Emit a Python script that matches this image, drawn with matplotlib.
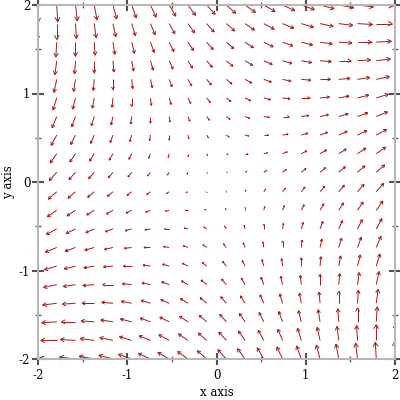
import math
import matplotlib
matplotlib.use("Agg")
import matplotlib.pyplot as plt
from matplotlib.collections import LineCollection
from matplotlib.ticker import MultipleLocator

plt.rcParams["axes.unicode_minus"] = False

# sample positions of the vector field (20 per axis)
X_SAMPLES = [-2.00, -1.79, -1.58, -1.37, -1.16, -0.95, -0.74, -0.53, -0.32, -0.11,
             0.11, 0.32, 0.53, 0.74, 0.95, 1.16, 1.37, 1.58, 1.79, 2.00]
Y_SAMPLES = [-2.00, -1.79, -1.58, -1.37, -1.16, -0.95, -0.74, -0.53, -0.32, -0.11,
             0.11, 0.32, 0.53, 0.74, 0.95, 1.16, 1.37, 1.58, 1.79, 2.00]

# x component, one row per y sample (bottom row first)
U = [
    [-4.00, -3.79, -3.58, -3.37, -3.16, -2.95, -2.74, -2.53, -2.32, -2.11, -1.89, -1.68, -1.47, -1.26, -1.05, -0.84, -0.63, -0.42, -0.21, 0.00],
    [-3.79, -3.58, -3.37, -3.16, -2.95, -2.74, -2.53, -2.32, -2.11, -1.89, -1.68, -1.47, -1.26, -1.05, -0.84, -0.63, -0.42, -0.21, 0.00, 0.21],
    [-3.58, -3.37, -3.16, -2.95, -2.74, -2.53, -2.32, -2.11, -1.89, -1.68, -1.47, -1.26, -1.05, -0.84, -0.63, -0.42, -0.21, 0.00, 0.21, 0.42],
    [-3.37, -3.16, -2.95, -2.74, -2.53, -2.32, -2.11, -1.89, -1.68, -1.47, -1.26, -1.05, -0.84, -0.63, -0.42, -0.21, 0.00, 0.21, 0.42, 0.63],
    [-3.16, -2.95, -2.74, -2.53, -2.32, -2.11, -1.89, -1.68, -1.47, -1.26, -1.05, -0.84, -0.63, -0.42, -0.21, 0.00, 0.21, 0.42, 0.63, 0.84],
    [-2.95, -2.74, -2.53, -2.32, -2.11, -1.89, -1.68, -1.47, -1.26, -1.05, -0.84, -0.63, -0.42, -0.21, 0.00, 0.21, 0.42, 0.63, 0.84, 1.05],
    [-2.74, -2.53, -2.32, -2.11, -1.89, -1.68, -1.47, -1.26, -1.05, -0.84, -0.63, -0.42, -0.21, 0.00, 0.21, 0.42, 0.63, 0.84, 1.05, 1.26],
    [-2.53, -2.32, -2.11, -1.89, -1.68, -1.47, -1.26, -1.05, -0.84, -0.63, -0.42, -0.21, 0.00, 0.21, 0.42, 0.63, 0.84, 1.05, 1.26, 1.47],
    [-2.32, -2.11, -1.89, -1.68, -1.47, -1.26, -1.05, -0.84, -0.63, -0.42, -0.21, 0.00, 0.21, 0.42, 0.63, 0.84, 1.05, 1.26, 1.47, 1.68],
    [-2.11, -1.89, -1.68, -1.47, -1.26, -1.05, -0.84, -0.63, -0.42, -0.21, 0.00, 0.21, 0.42, 0.63, 0.84, 1.05, 1.26, 1.47, 1.68, 1.89],
    [-1.89, -1.68, -1.47, -1.26, -1.05, -0.84, -0.63, -0.42, -0.21, 0.00, 0.21, 0.42, 0.63, 0.84, 1.05, 1.26, 1.47, 1.68, 1.89, 2.11],
    [-1.68, -1.47, -1.26, -1.05, -0.84, -0.63, -0.42, -0.21, 0.00, 0.21, 0.42, 0.63, 0.84, 1.05, 1.26, 1.47, 1.68, 1.89, 2.11, 2.32],
    [-1.47, -1.26, -1.05, -0.84, -0.63, -0.42, -0.21, 0.00, 0.21, 0.42, 0.63, 0.84, 1.05, 1.26, 1.47, 1.68, 1.89, 2.11, 2.32, 2.53],
    [-1.26, -1.05, -0.84, -0.63, -0.42, -0.21, 0.00, 0.21, 0.42, 0.63, 0.84, 1.05, 1.26, 1.47, 1.68, 1.89, 2.11, 2.32, 2.53, 2.74],
    [-1.05, -0.84, -0.63, -0.42, -0.21, 0.00, 0.21, 0.42, 0.63, 0.84, 1.05, 1.26, 1.47, 1.68, 1.89, 2.11, 2.32, 2.53, 2.74, 2.95],
    [-0.84, -0.63, -0.42, -0.21, 0.00, 0.21, 0.42, 0.63, 0.84, 1.05, 1.26, 1.47, 1.68, 1.89, 2.11, 2.32, 2.53, 2.74, 2.95, 3.16],
    [-0.63, -0.42, -0.21, 0.00, 0.21, 0.42, 0.63, 0.84, 1.05, 1.26, 1.47, 1.68, 1.89, 2.11, 2.32, 2.53, 2.74, 2.95, 3.16, 3.37],
    [-0.42, -0.21, 0.00, 0.21, 0.42, 0.63, 0.84, 1.05, 1.26, 1.47, 1.68, 1.89, 2.11, 2.32, 2.53, 2.74, 2.95, 3.16, 3.37, 3.58],
    [-0.21, 0.00, 0.21, 0.42, 0.63, 0.84, 1.05, 1.26, 1.47, 1.68, 1.89, 2.11, 2.32, 2.53, 2.74, 2.95, 3.16, 3.37, 3.58, 3.79],
    [0.00, 0.21, 0.42, 0.63, 0.84, 1.05, 1.26, 1.47, 1.68, 1.89, 2.11, 2.32, 2.53, 2.74, 2.95, 3.16, 3.37, 3.58, 3.79, 4.00],
]

# y component, same layout
V = [
    [0.00, 0.21, 0.42, 0.63, 0.84, 1.05, 1.26, 1.47, 1.68, 1.89, 2.11, 2.32, 2.53, 2.74, 2.95, 3.16, 3.37, 3.58, 3.79, 4.00],
    [-0.21, 0.00, 0.21, 0.42, 0.63, 0.84, 1.05, 1.26, 1.47, 1.68, 1.89, 2.11, 2.32, 2.53, 2.74, 2.95, 3.16, 3.37, 3.58, 3.79],
    [-0.42, -0.21, 0.00, 0.21, 0.42, 0.63, 0.84, 1.05, 1.26, 1.47, 1.68, 1.89, 2.11, 2.32, 2.53, 2.74, 2.95, 3.16, 3.37, 3.58],
    [-0.63, -0.42, -0.21, 0.00, 0.21, 0.42, 0.63, 0.84, 1.05, 1.26, 1.47, 1.68, 1.89, 2.11, 2.32, 2.53, 2.74, 2.95, 3.16, 3.37],
    [-0.84, -0.63, -0.42, -0.21, 0.00, 0.21, 0.42, 0.63, 0.84, 1.05, 1.26, 1.47, 1.68, 1.89, 2.11, 2.32, 2.53, 2.74, 2.95, 3.16],
    [-1.05, -0.84, -0.63, -0.42, -0.21, 0.00, 0.21, 0.42, 0.63, 0.84, 1.05, 1.26, 1.47, 1.68, 1.89, 2.11, 2.32, 2.53, 2.74, 2.95],
    [-1.26, -1.05, -0.84, -0.63, -0.42, -0.21, 0.00, 0.21, 0.42, 0.63, 0.84, 1.05, 1.26, 1.47, 1.68, 1.89, 2.11, 2.32, 2.53, 2.74],
    [-1.47, -1.26, -1.05, -0.84, -0.63, -0.42, -0.21, 0.00, 0.21, 0.42, 0.63, 0.84, 1.05, 1.26, 1.47, 1.68, 1.89, 2.11, 2.32, 2.53],
    [-1.68, -1.47, -1.26, -1.05, -0.84, -0.63, -0.42, -0.21, 0.00, 0.21, 0.42, 0.63, 0.84, 1.05, 1.26, 1.47, 1.68, 1.89, 2.11, 2.32],
    [-1.89, -1.68, -1.47, -1.26, -1.05, -0.84, -0.63, -0.42, -0.21, 0.00, 0.21, 0.42, 0.63, 0.84, 1.05, 1.26, 1.47, 1.68, 1.89, 2.11],
    [-2.11, -1.89, -1.68, -1.47, -1.26, -1.05, -0.84, -0.63, -0.42, -0.21, 0.00, 0.21, 0.42, 0.63, 0.84, 1.05, 1.26, 1.47, 1.68, 1.89],
    [-2.32, -2.11, -1.89, -1.68, -1.47, -1.26, -1.05, -0.84, -0.63, -0.42, -0.21, 0.00, 0.21, 0.42, 0.63, 0.84, 1.05, 1.26, 1.47, 1.68],
    [-2.53, -2.32, -2.11, -1.89, -1.68, -1.47, -1.26, -1.05, -0.84, -0.63, -0.42, -0.21, 0.00, 0.21, 0.42, 0.63, 0.84, 1.05, 1.26, 1.47],
    [-2.74, -2.53, -2.32, -2.11, -1.89, -1.68, -1.47, -1.26, -1.05, -0.84, -0.63, -0.42, -0.21, 0.00, 0.21, 0.42, 0.63, 0.84, 1.05, 1.26],
    [-2.95, -2.74, -2.53, -2.32, -2.11, -1.89, -1.68, -1.47, -1.26, -1.05, -0.84, -0.63, -0.42, -0.21, 0.00, 0.21, 0.42, 0.63, 0.84, 1.05],
    [-3.16, -2.95, -2.74, -2.53, -2.32, -2.11, -1.89, -1.68, -1.47, -1.26, -1.05, -0.84, -0.63, -0.42, -0.21, 0.00, 0.21, 0.42, 0.63, 0.84],
    [-3.37, -3.16, -2.95, -2.74, -2.53, -2.32, -2.11, -1.89, -1.68, -1.47, -1.26, -1.05, -0.84, -0.63, -0.42, -0.21, 0.00, 0.21, 0.42, 0.63],
    [-3.58, -3.37, -3.16, -2.95, -2.74, -2.53, -2.32, -2.11, -1.89, -1.68, -1.47, -1.26, -1.05, -0.84, -0.63, -0.42, -0.21, 0.00, 0.21, 0.42],
    [-3.79, -3.58, -3.37, -3.16, -2.95, -2.74, -2.53, -2.32, -2.11, -1.89, -1.68, -1.47, -1.26, -1.05, -0.84, -0.63, -0.42, -0.21, 0.00, 0.21],
    [-4.00, -3.79, -3.58, -3.37, -3.16, -2.95, -2.74, -2.53, -2.32, -2.11, -1.89, -1.68, -1.47, -1.26, -1.05, -0.84, -0.63, -0.42, -0.21, 0.00],
]

X_RANGE = (-2, 2)
Y_RANGE = (-2, 2)
ARROW_COLOR = "#9e1c1c"


def arrow_segments(xs, ys, us, vs):
    # scale like racket 'auto: largest component fills one sample box
    box_x = (X_RANGE[1] - X_RANGE[0]) / len(xs)
    box_y = (Y_RANGE[1] - Y_RANGE[0]) / len(ys)
    umax = max(abs(u) for row in us for u in row)
    vmax = max(abs(v) for row in vs for v in row)
    s = min(box_x / umax, box_y / vmax)
    segs = []
    for j, y in enumerate(ys):
        for i, x in enumerate(xs):
            dx = us[j][i] * s
            dy = vs[j][i] * s
            length = math.hypot(dx, dy)
            if length == 0:
                continue
            hx, hy = x + dx, y + dy
            segs.append([(x, y), (hx, hy)])
            ang = math.atan2(dy, dx)
            hl = 0.3 * length
            for a in (ang + math.pi - 0.5, ang + math.pi + 0.5):
                segs.append([(hx, hy), (hx + hl * math.cos(a), hy + hl * math.sin(a))])
    return segs


fig = plt.figure(figsize=(4, 4), dpi=100)
ax = fig.add_axes([38 / 400, 41 / 400, 357 / 400, 354 / 400])

lc = LineCollection(arrow_segments(X_SAMPLES, Y_SAMPLES, U, V),
                    colors=ARROW_COLOR, linewidths=0.7, zorder=2)
ax.add_collection(lc)

ax.set_xlim(*X_RANGE)
ax.set_ylim(*Y_RANGE)

for sp in ax.spines.values():
    sp.set_color("#b8b8b8")
    sp.set_linewidth(1.5)
    sp.set_zorder(2.5)

ax.xaxis.set_major_locator(MultipleLocator(1))
ax.yaxis.set_major_locator(MultipleLocator(1))
ax.xaxis.set_minor_locator(MultipleLocator(0.5))
ax.yaxis.set_minor_locator(MultipleLocator(0.5))
ax.tick_params(which="major", direction="inout", length=9, width=1.5,
               color="#505050", top=True, right=True,
               labelsize=8.5, labelcolor="black")
ax.tick_params(which="minor", direction="inout", length=5, width=1,
               color="#606060", top=True, right=True)
ax.tick_params(axis="x", which="major", pad=3)
ax.tick_params(axis="y", which="major", pad=1)

for lab in ax.get_xticklabels() + ax.get_yticklabels():
    lab.set_family("DejaVu Serif")

fig.text(216.5 / 400, 1 - 392 / 400, "x axis", ha="center", va="center",
         fontsize=8.5, family="DejaVu Serif")
fig.text(9 / 400, 1 - 182 / 400, "y axis", ha="center", va="center",
         rotation=90, fontsize=8.5, family="DejaVu Serif")

fig.savefig("out.png", dpi=100)
